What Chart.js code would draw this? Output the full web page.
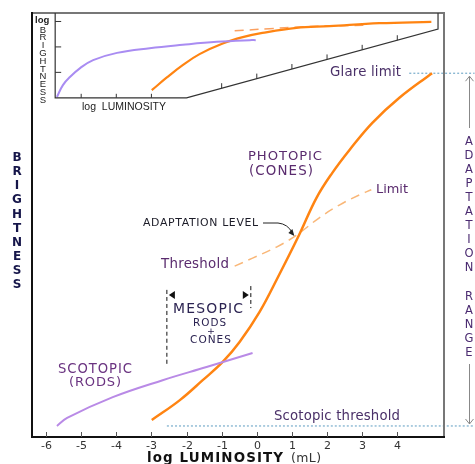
<!DOCTYPE html>
<html lang="en">
<head>
<meta charset="UTF-8">
<title>Brightness vs Luminosity</title>
<script src="https://cdn.jsdelivr.net/npm/chart.js@4.4.0/dist/chart.umd.min.js"></script>
<style>
    body { margin: 0; background: #fff; }
    #wrap { width: 475px; height: 464px; }
</style>
</head>
<body>
<div id="wrap"><canvas id="chart" width="475" height="464"></canvas></div>
<script>
// x: log luminosity (mL), y: brightness (arbitrary 0-100)
const xTicks = [-6, -5, -4, -3, -2, -1, 0, 1, 2, 3, 4];

const photopicX = [-2.99, -2.19, -1.54, -0.97, -0.49, 0.08, 0.59, 1.19, 1.70, 2.15, 2.64, 3.29, 4.06, 4.99];
const photopicY = [4.0, 8.7, 13.4, 17.7, 22.4, 29.5, 37.5, 47.4, 56.4, 62.3, 67.7, 74.1, 80.0, 85.8];

const scotopicX = [-5.69, -5.40, -4.10, -2.68, -1.43, -0.12];
const scotopicY = [2.6, 4.5, 9.4, 13.4, 16.5, 19.8];

const adaptX = [-0.63, -0.12, 0.56, 1.13, 1.78, 2.35, 2.92, 3.26];
const adaptY = [40.3, 42.2, 44.8, 47.6, 51.7, 54.7, 57.1, 58.3];

// inset (log brightness vs log luminosity)
const insetRodX = [-5.69, -5.52, -5.32, -5.03, -4.66, -3.98, -3.05, -2.11, -1.14, -0.20, -0.03];
const insetRodY = [80.2, 83.0, 84.9, 87.0, 88.9, 90.6, 91.7, 92.5, 93.2, 93.6, 93.6];
const insetConeX = [-2.99, -2.56, -2.11, -1.63, -0.97, -0.40, 0.16, 1.13, 2.07, 3.49, 4.97];
const insetConeY = [81.8, 84.8, 87.7, 90.3, 92.8, 94.3, 95.3, 96.5, 96.9, 97.6, 97.9];
const insetAdaptX = [-0.63, 0.36, 1.22, 2.35, 3.20];
const insetAdaptY = [95.8, 96.3, 96.7, 97.0, 97.1];

// reference lines and mesopic bracket
const glareX = [4.34, 6.2];
const glareY = [85.8, 85.8];
const scotThreshX = [-2.56, 6.2];
const scotThreshY = [2.6, 2.6];
const mesoLeftX = [-2.56, -2.56];
const mesoLeftY = [34.7, 17.0];
const mesoRightX = [-0.17, -0.17];
const mesoRightY = [35.6, 30.4];

function pts(xs, ys) {
    return xs.map((x, i) => ({ x: x, y: ys[i] }));
}

const ORANGE = '#ff8412';
const PURPLE = '#b98ae6';
const LABEL = '#5a2b6e';

// draw text so that it spans roughly `width` px: grow the font a bit, pad the rest with spacing
function txt(ctx, s, left, y, size, width, color, weight) {
    const w = weight || 'normal';
    ctx.letterSpacing = '0px';
    ctx.font = w + ' ' + size + 'px "DejaVu Sans"';
    if (width) {
        const m = ctx.measureText(s).width;
        const sz = size * Math.sqrt(width / m);
        ctx.font = w + ' ' + sz.toFixed(2) + 'px "DejaVu Sans"';
        const m2 = ctx.measureText(s).width;
        ctx.letterSpacing = ((width - m2) / Math.max(1, s.length - 1)).toFixed(2) + 'px';
    }
    ctx.fillStyle = color;
    ctx.textAlign = 'left';
    ctx.textBaseline = 'middle';
    ctx.fillText(s, left, y);
    ctx.letterSpacing = '0px';
}

const decor = {
    id: 'decor',
    afterDatasetsDraw(chart) {
        const ctx = chart.ctx;
        const xs = chart.scales.x, ys = chart.scales.y;
        const a = chart.chartArea;
        const X = v => xs.getPixelForValue(v);
        const Y = v => ys.getPixelForValue(v);
        ctx.save();

        // main frame
        ctx.lineWidth = 2;
        ctx.strokeStyle = '#777';
        ctx.beginPath();
        ctx.moveTo(a.left, a.top); ctx.lineTo(a.right, a.top); ctx.lineTo(a.right, a.bottom);
        ctx.stroke();
        ctx.strokeStyle = '#111';
        ctx.beginPath();
        ctx.moveTo(a.left, a.top - 1); ctx.lineTo(a.left, a.bottom); ctx.lineTo(a.right + 1, a.bottom);
        ctx.stroke();

        // x ticks + labels
        ctx.lineWidth = 1;
        ctx.strokeStyle = '#555';
        xTicks.forEach(t => {
            const px = Math.round(X(t)) + 0.5;
            ctx.beginPath(); ctx.moveTo(px, a.bottom - 5); ctx.lineTo(px, a.bottom); ctx.stroke();
            ctx.font = '11px "DejaVu Sans"';
            ctx.fillStyle = '#333';
            ctx.textAlign = 'center';
            ctx.textBaseline = 'middle';
            ctx.fillText(String(t), px, a.bottom + 9);
        });

        // axis title
        txt(ctx, 'log LUMINOSITY', 147, 459, 12, 136, '#111', 'bold');
        txt(ctx, '(mL)', 291, 459, 12, 30, '#333');

        // BRIGHTNESS vertical
        ctx.font = 'bold 12px "DejaVu Sans"';
        ctx.fillStyle = '#16164a';
        ctx.textAlign = 'center';
        'BRIGHTNESS'.split('').forEach((c, i) => ctx.fillText(c, 17, 158 + i * 14.1));

        // ADAPTATION RANGE vertical
        ctx.font = '11.5px "DejaVu Sans"';
        ctx.fillStyle = '#4a2a70';
        'ADAPTATION'.split('').forEach((c, i) => ctx.fillText(c, 469, 142 + i * 14));
        'RANGE'.split('').forEach((c, i) => ctx.fillText(c, 469, 297 + i * 14));
        ctx.strokeStyle = '#888';
        ctx.lineWidth = 1;
        ctx.beginPath();
        ctx.moveTo(469.5, Y(85.8) + 3); ctx.lineTo(469.5, 128);
        ctx.moveTo(469.5, 364); ctx.lineTo(469.5, Y(2.6) - 2);
        ctx.moveTo(465.5, Y(85.8) + 8); ctx.lineTo(469.5, Y(85.8) + 3); ctx.lineTo(473.5, Y(85.8) + 8);
        ctx.moveTo(465.5, Y(2.6) - 7); ctx.lineTo(469.5, Y(2.6) - 2); ctx.lineTo(473.5, Y(2.6) - 7);
        ctx.stroke();

        // inset frame
        ctx.strokeStyle = '#333';
        ctx.lineWidth = 1.2;
        const iL = X(-5.74), iB = Y(80), iC = X(-2), iR = X(5.16), iRB = Y(96.2);
        ctx.beginPath();
        ctx.moveTo(iL, a.top); ctx.lineTo(iL, iB); ctx.lineTo(iC, iB);
        ctx.lineTo(iR, iRB); ctx.lineTo(iR, a.top);
        ctx.stroke();
        ctx.lineWidth = 1;
        [86, 92, 98].forEach(v => {
            ctx.beginPath(); ctx.moveTo(iL, Y(v)); ctx.lineTo(iL + 6, Y(v)); ctx.stroke();
        });
        [-5, -4, -3].forEach(t => {
            ctx.beginPath(); ctx.moveTo(X(t), iB); ctx.lineTo(X(t), iB - 4); ctx.stroke();
        });
        [-1, 0, 1, 2, 3, 4].forEach(t => {
            const px = X(t);
            const py = iB + (iRB - iB) * (px - iC) / (iR - iC);
            ctx.beginPath(); ctx.moveTo(px, py); ctx.lineTo(px, py - 5); ctx.stroke();
        });
        ctx.font = 'bold 9.5px "Liberation Sans"';
        ctx.fillStyle = '#222';
        ctx.textAlign = 'left';
        ctx.textBaseline = 'middle';
        ctx.fillText('log', 35, 20);
        ctx.font = '9.5px "Liberation Sans"';
        ctx.textAlign = 'center';
        'BRIGHTNESS'.split('').forEach((c, i) => ctx.fillText(c, 43, 30 + i * 7.8));
        ctx.font = '10.5px "Liberation Sans"';
        ctx.textAlign = 'left';
        ctx.fillText('log  LUMINOSITY', 82, 107);

        // labels
        txt(ctx, 'Glare limit', 330, 73, 13, 71, '#4a3068');
        txt(ctx, 'PHOTOPIC', 248, 157, 12, 74, LABEL);
        txt(ctx, '(CONES)', 249, 172, 12, 64, LABEL);
        txt(ctx, 'Limit', 376, 190, 13, 32, LABEL);
        txt(ctx, 'ADAPTATION LEVEL', 143, 223, 10, 115, '#1c1c28');
        txt(ctx, 'Threshold', 161, 265, 13, 68, LABEL);
        txt(ctx, 'MESOPIC', 173, 309, 12.5, 70, '#2c2452');
        txt(ctx, 'RODS', 193, 323, 9.5, 33, '#2c2452');
        txt(ctx, '+', 207, 332, 9.5, 0, '#2c2452');
        txt(ctx, 'CONES', 190, 340, 9.5, 41, '#2c2452');
        txt(ctx, 'SCOTOPIC', 58, 370, 12, 74, '#6a3380');
        txt(ctx, '(RODS)', 69, 383, 12, 52, '#6a3380');
        txt(ctx, 'Scotopic threshold', 274, 417, 13, 126, '#4a3068');

        // adaptation level pointer
        const ax = X(1.07), ay = Y(47.4);
        ctx.strokeStyle = '#222';
        ctx.lineWidth = 1;
        ctx.beginPath();
        ctx.moveTo(263, 223); ctx.lineTo(278, 223);
        ctx.quadraticCurveTo(288, 224, ax - 2, ay - 3);
        ctx.stroke();
        ctx.fillStyle = '#222';
        ctx.beginPath();
        ctx.moveTo(ax, ay); ctx.lineTo(ax - 6, ay - 3); ctx.lineTo(ax - 2, ay - 7);
        ctx.closePath(); ctx.fill();

        // mesopic arrowheads
        const ml = X(-2.56), mr = X(-0.17), my = 295;
        ctx.fillStyle = '#111';
        ctx.beginPath();
        ctx.moveTo(ml + 2, my); ctx.lineTo(ml + 8, my - 4); ctx.lineTo(ml + 8, my + 4); ctx.closePath(); ctx.fill();
        ctx.beginPath();
        ctx.moveTo(mr - 2, my); ctx.lineTo(mr - 8, my - 4); ctx.lineTo(mr - 8, my + 4); ctx.closePath(); ctx.fill();

        ctx.restore();
    }
};

const solid = (data, color, w) => ({
    data: data, borderColor: color, borderWidth: w, pointRadius: 0,
    tension: 0.4, fill: false
});

new Chart(document.getElementById('chart'), {
    type: 'line',
    data: {
        datasets: [
            solid(pts(scotopicX, scotopicY), PURPLE, 2),
            solid(pts(photopicX, photopicY), ORANGE, 2.5),
            Object.assign(solid(pts(adaptX, adaptY), '#f9b778', 1.5), { borderDash: [9, 6] }),
            solid(pts(insetRodX, insetRodY), '#a98cf2', 2),
            solid(pts(insetConeX, insetConeY), ORANGE, 2.2),
            Object.assign(solid(pts(insetAdaptX, insetAdaptY), '#fba060', 1.5), { borderDash: [9, 6] }),
            Object.assign(solid(pts(glareX, glareY), '#5b9bc0', 1), { borderDash: [2, 2], clip: false }),
            Object.assign(solid(pts(scotThreshX, scotThreshY), '#5b9bc0', 1), { borderDash: [2, 2], clip: false }),
            Object.assign(solid(pts(mesoLeftX, mesoLeftY), '#111', 1), { borderDash: [4, 3] }),
            Object.assign(solid(pts(mesoRightX, mesoRightY), '#111', 1), { borderDash: [4, 3] })
        ]
    },
    options: {
        responsive: false,
        devicePixelRatio: 1,
        animation: false,
        layout: { padding: { left: 32, right: 31, top: 13, bottom: 27 } },
        plugins: { legend: { display: false }, tooltip: { enabled: false } },
        scales: {
            x: { type: 'linear', min: -6.4, max: 5.33, display: false },
            y: { type: 'linear', min: 0, max: 100, display: false }
        }
    },
    plugins: [decor]
});
</script>
</body>
</html>
